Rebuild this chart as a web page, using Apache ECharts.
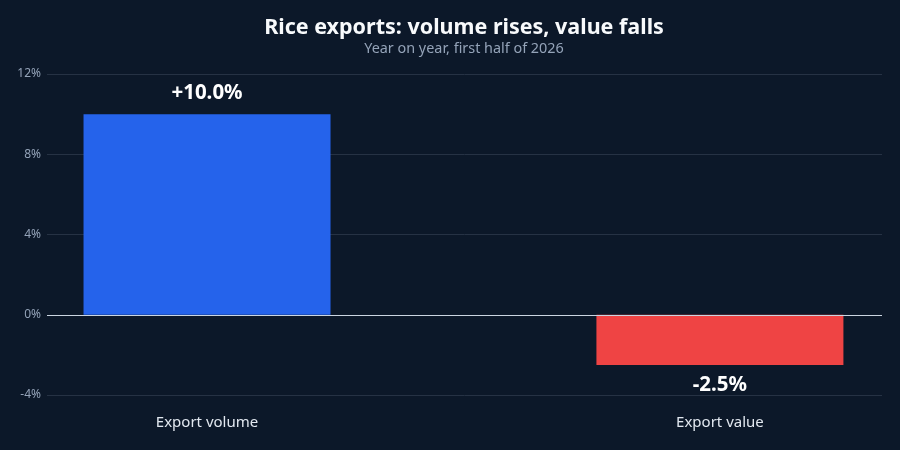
<!DOCTYPE html>
<html>
<head>
<meta charset="utf-8">
<script src="https://cdn.jsdelivr.net/npm/echarts@6/dist/echarts.min.js"></script>
<style>
  html, body { margin: 0; padding: 0; background: #0c1829; }
  #chart { width: 900px; height: 450px; }
</style>
</head>
<body>
<div id="chart"></div>
<script>
// data
const categories = ['Export volume', 'Export value']
const changes = [10.0, -2.5]
const barColors = ['#2563eb', '#ef4444']
const yTicks = [-4, 0, 4, 8, 12]

const chart = echarts.init(document.getElementById('chart'))
const font = '"Noto Sans", "Open Sans", sans-serif'

const option = {
  backgroundColor: '#0c1829',
  textStyle: { fontFamily: font },
  title: {
    text: 'Rice exports: volume rises, value falls',
    subtext: 'Year on year, first half of 2026',
    left: 459,
    textAlign: 'center',
    top: 12,
    itemGap: 3,
    textStyle: { color: '#f8fafc', fontSize: 21.5, fontWeight: 'bold', fontFamily: font },
    subtextStyle: { color: '#94a3b8', fontSize: 14.4, fontFamily: font }
  },
  grid: { left: 47, right: 18, top: 74, bottom: 55 },
  xAxis: {
    type: 'value',
    min: -0.312,
    max: 1.316,
    axisLine: { show: false },
    axisTick: { show: false },
    splitLine: { show: false },
    axisLabel: {
      customValues: [0, 1],
      formatter: v => categories[Math.round(v)],
      color: '#e2e8f0',
      fontSize: 15,
      margin: 20,
      fontFamily: font
    }
  },
  yAxis: {
    type: 'value',
    min: yTicks[0],
    max: yTicks[yTicks.length - 1],
    interval: 4,
    axisLine: { show: false },
    axisTick: { show: false },
    axisLabel: {
      formatter: '{value}%',
      color: '#94a3b8',
      fontSize: 12,
      margin: 6,
      fontFamily: font
    },
    splitLine: { lineStyle: { color: '#263244', width: 1 } }
  },
  series: [
    {
      type: 'bar',
      barWidth: 247,
      data: changes.map((v, i) => ({
        value: [i, v],
        itemStyle: { color: barColors[i] },
        label: { position: v >= 0 ? 'top' : 'bottom' }
      })),
      label: {
        show: true,
        distance: 10,
        color: '#ffffff',
        fontSize: 20.5,
        fontWeight: 'bold',
        fontFamily: font,
        formatter: p => (p.value[1] > 0 ? '+' : '') + p.value[1].toFixed(1) + '%'
      },
      markLine: {
        silent: true,
        symbol: 'none',
        label: { show: false },
        lineStyle: { color: '#cbd5e1', width: 1.2, type: 'solid' },
        data: [{ yAxis: 0 }]
      }
    }
  ]
}

chart.setOption(option)
</script>
</body>
</html>
